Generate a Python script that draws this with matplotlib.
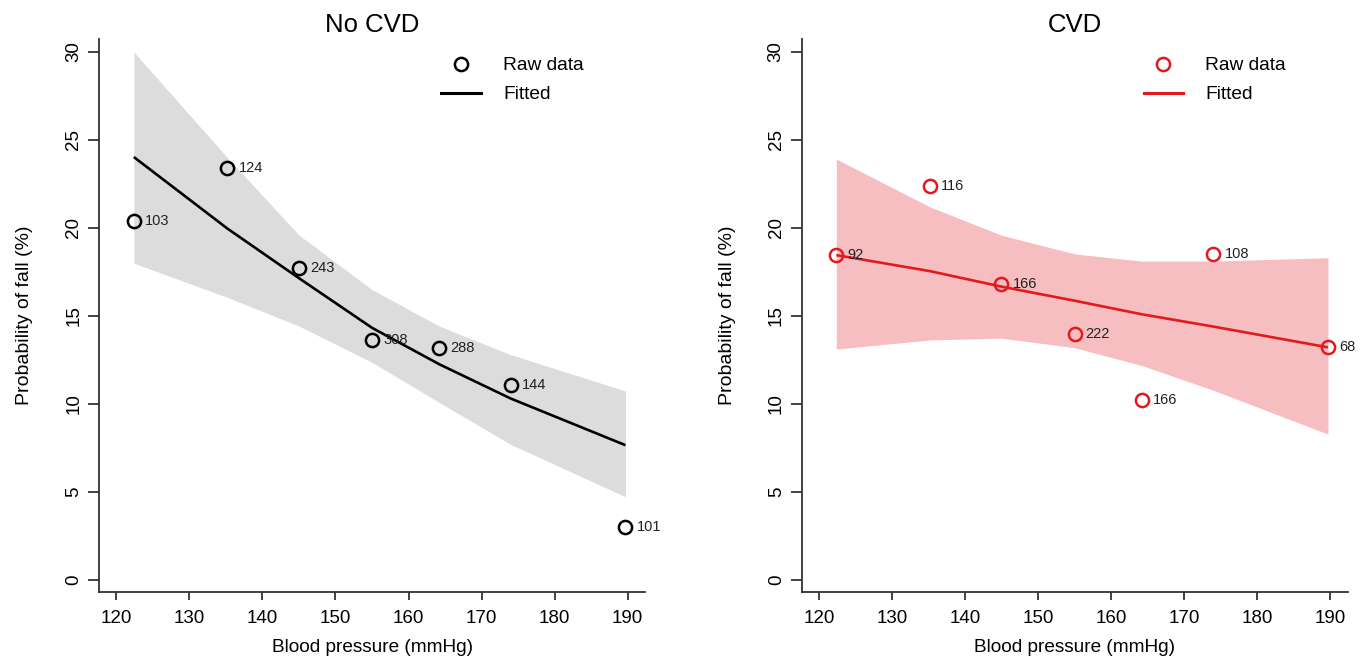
import matplotlib
matplotlib.use("Agg")
import matplotlib.pyplot as plt
from matplotlib.lines import Line2D

plt.rcParams['font.family'] = ['Liberation Sans', 'DejaVu Sans']

# Blood pressure category midpoints (mmHg)
bp = [122.4, 135.2, 145.0, 155.0, 164.2, 174.0, 189.7]

# No CVD
nocvd_raw = [20.4, 23.4, 17.7, 13.65, 13.2, 11.1, 3.0]
nocvd_n = ["103", "124", "243", "308", "288", "144", "101"]
nocvd_fit = [24.03, 19.97, 17.15, 14.33, 12.26, 10.31, 7.66]
nocvd_lo = [18.0, 16.06, 14.43, 12.37, 10.09, 7.7, 4.73]
nocvd_hi = [30.0, 24.0, 19.6, 16.5, 14.43, 12.8, 10.74]

# CVD
cvd_raw = [18.46, 22.4, 16.84, 13.96, 10.24, 18.5, 13.22]
cvd_n = ["92", "116", "166", "222", "166", "108", "68"]
cvd_fit = [18.46, 17.55, 16.67, 15.87, 15.1, 14.4, 13.22]
cvd_lo = [13.12, 13.64, 13.74, 13.2, 12.19, 10.78, 8.29]
cvd_hi = [23.92, 21.2, 19.59, 18.53, 18.12, 18.12, 18.31]

xticks = [120, 130, 140, 150, 160, 170, 180, 190]
yticks = [0, 5, 10, 15, 20, 25, 30]

W, H = 1364, 659
fig = plt.figure(figsize=(W / 100, H / 100), dpi=100)

panels = [
    dict(title="No CVD", raw=nocvd_raw, n=nocvd_n, fit=nocvd_fit, lo=nocvd_lo, hi=nocvd_hi,
         color="black", band="#DCDCDC", left=99),
    dict(title="CVD", raw=cvd_raw, n=cvd_n, fit=cvd_fit, lo=cvd_lo, hi=cvd_hi,
         color="#E3191E", band="#F6BEC0", left=801.5),
]

ax_w = 546
leg_fs = 13.8
for p in panels:
    ax = fig.add_axes([p["left"] / W, 1 - 592 / H, ax_w / W, (592 - 39.3) / H])
    ax.fill_between(bp, p["lo"], p["hi"], color=p["band"], lw=0, zorder=1)
    ax.plot(bp, p["fit"], color=p["color"], lw=1.9, zorder=2, solid_capstyle='butt')
    ax.plot(bp, p["raw"], 'o', mfc='none', mec=p["color"], ms=9.5, mew=1.8, zorder=3)
    for x, y, t in zip(bp, p["raw"], p["n"]):
        ax.annotate(t, (x, y), xytext=(8, 0), textcoords='offset points',
                    ha='left', va='center', fontsize=10.5, color='#222222', zorder=4)
    ax.set_xlim(117.63, 192.37)
    ax.set_ylim(-0.68, 30.72)
    ax.set_xticks(xticks)
    ax.set_yticks(yticks)
    for s in ("top", "right"):
        ax.spines[s].set_visible(False)
    for s in ("left", "bottom"):
        ax.spines[s].set_linewidth(1.3)
        ax.spines[s].set_color('#333333')
    ax.tick_params(axis='x', length=6, width=1.3, labelsize=13.5, pad=7, color='#333333')
    ax.tick_params(axis='y', length=8, width=1.3, labelsize=13.5, pad=4, color='#333333',
                   labelrotation=90)
    for lab in ax.get_yticklabels():
        lab.set_va('center')
    ax.set_title(p["title"], fontsize=18.5, pad=5)
    ax.set_xlabel("Blood pressure (mmHg)", fontsize=13.7, labelpad=8.5)
    ax.set_ylabel("Probability of fall (%)", fontsize=14, labelpad=23)
    handles = [
        Line2D([], [], marker='o', ls='none', mfc='none', mec=p["color"], ms=9.5, mew=1.8),
        Line2D([], [], color=p["color"], lw=2.2),
    ]
    lx = p["left"] + 342
    ax.legend(handles, ["Raw data", "Fitted"], loc='upper left',
              bbox_to_anchor=(lx / W, 1 - 57 / H), bbox_transform=fig.transFigure,
              frameon=False, fontsize=leg_fs, handlelength=2.08, handletextpad=1.15,
              labelspacing=0.6, borderpad=0, borderaxespad=0)

fig.savefig("out.png", dpi=100)
